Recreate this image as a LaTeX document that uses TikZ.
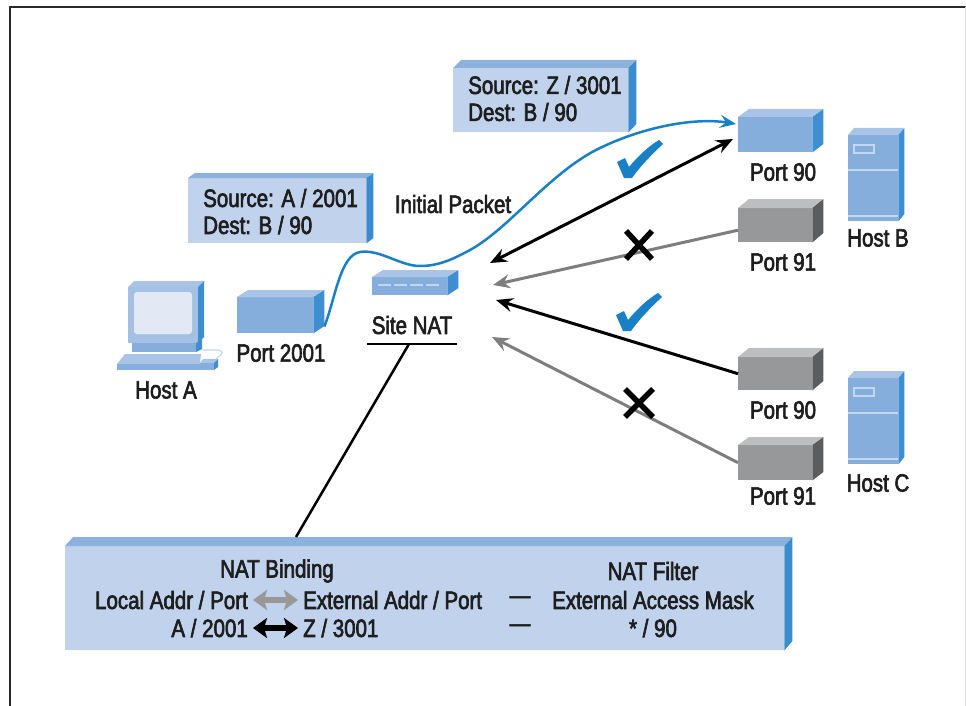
\documentclass[tikz,border=0pt]{standalone}
\usepackage{fontspec}
\setmainfont{Liberation Sans}[FakeStretch=0.82, FakeBold=2.5]
\usetikzlibrary{arrows.meta,calc}

\definecolor{txt}{HTML}{1E1E1E}
\definecolor{framecol}{HTML}{2A2A2A}
\definecolor{bfront}{HTML}{C0D2EC}
\definecolor{btop}{HTML}{8DB1DD}
\definecolor{bside}{HTML}{3A8CCF}
\definecolor{mfront}{HTML}{86AEDC}
\definecolor{mtop}{HTML}{A9C4E7}
\definecolor{mside}{HTML}{3D8FD1}
\definecolor{gfront}{HTML}{97989A}
\definecolor{gtop}{HTML}{BDBEC0}
\definecolor{gside}{HTML}{5B5C5E}
\definecolor{screen}{HTML}{E2E9F5}
\definecolor{srvline}{HTML}{C4D6F0}
\definecolor{pkt}{HTML}{1A80C6}
\definecolor{arrgray}{HTML}{7E7E7E}

% 3D block: name, x, y (front top left), width, height, dx, dy, colour prefix
\newcommand{\drawblock}[8]{%
  \node[fill=#8front, minimum width=#4pt, minimum height=#5pt, inner sep=0pt, anchor=north west] (#1) at (#2,#3) {};
  \fill[#8top] (#1.north west) -- ++(#6,-#7) -- ++(#4,0) -- (#1.north east) -- cycle;
  \fill[#8side] (#1.north east) -- ++(#6,-#7) -- ++(0,#5) -- (#1.south east) -- cycle;
}
% server tower: name, x, y
\newcommand{\drawserver}[3]{%
  \drawblock{#1}{#2}{#3}{50}{86}{6}{7}{m}
  \draw[srvline, line width=1.5pt] ($(#1.north west)+(6,10)$) rectangle ($(#1.north west)+(26,18)$);
  \draw[srvline, line width=1.5pt] ($(#1.north west)+(0,35)$) -- ($(#1.north east)+(0,35)$);
  \draw[srvline, line width=1.5pt] ($(#1.north west)+(0,81)$) -- ($(#1.north east)+(0,81)$);
}
% tick mark, bottom point at x, y
\newcommand{\drawtick}[2]{%
  \fill[pkt, shift={(#1,#2)}] (-10,-15) -- (-2,-19) -- (2,-10) .. controls (12,-22) and (22,-31) .. (32,-37) -- (36,-33) .. controls (24,-22) and (12,-9) .. (5,1) -- (-3,1) -- cycle;
}

\begin{document}
\begin{tikzpicture}[x=1pt, y=-1pt,
    lbl/.style={font=\fontsize{25}{27}\selectfont, text=txt, inner sep=0pt},
    fwd/.style={line width=3pt, -{Stealth[length=17pt,width=14pt,inset=6pt]}},
    both/.style={line width=3pt, {Stealth[length=17pt,width=14pt,inset=6pt]}-{Stealth[length=17pt,width=14pt,inset=6pt]}},
    cross/.style={line width=5.5pt, black},
    bind/.style={line width=6pt, {Stealth[length=14pt,width=20pt,inset=3pt]}-{Stealth[length=14pt,width=20pt,inset=3pt]}, shorten <=5pt, shorten >=5pt}]
    \useasboundingbox (0,0) rectangle (966,706);
    \fill[white] (0,0) rectangle (966,706);
    \draw[framecol, line width=2.5pt] (10,706) -- (10,7) -- (966,7); % frame
    \draw[black!12, line width=1pt] (965,7) -- (965,706);

    % packet boxes
    \drawblock{srcA}{188}{178}{178}{65}{7}{5}{b}
    \node[lbl, align=left, anchor=west] (srcAtxt) at (203,211.5) {Source: A / 2001\\Dest: B / 90};
    \drawblock{srcZ}{453}{68}{175}{64}{8}{8}{b}
    \node[lbl, align=left, anchor=west] (srcZtxt) at (468,98.5) {Source: Z / 3001\\Dest: B / 90};

    % Host A
    \fill[mtop] (128,287) -- (134,281) -- (204,281) -- (198,287) -- cycle;
    \fill[mside] (198,287) -- (204,281) -- (204,337) -- (198,343) -- cycle;
    \fill[mtop!85!mfront] (128,287) rectangle (198,343);
    \fill[screen, rounded corners=3pt] (134,292) rectangle (192,334);
    \fill[mfront] (132,343) rectangle (196,352);
    \fill[mside] (196,343) -- (202,339) -- (202,349) -- (196,352) -- cycle;
    \fill[mtop] (125,354) -- (201,354) -- (200,364) -- (117,364) -- cycle;
    \fill[mfront] (117,364) rectangle (200,370);
    \draw[srvline, line width=1.2pt] (202,350) -- (218,350) .. controls (224,352) .. (216,359);
    \fill[mtop] (203,359) -- (218,359) -- (215,363) -- (200,363) -- cycle;
    \fill[mfront] (200,363) rectangle (214,370);
    \fill[mside] (214,363) -- (218,359) -- (218,367) -- (214,370) -- cycle;
    \node[lbl] (hostA) at (166,390) {Host A};

    \drawblock{p2001}{237}{297}{76}{36}{11}{7}{m}
    \node[lbl] (p2001lbl) at (281,353) {Port 2001};

    % Site NAT
    \drawblock{nat}{372}{277}{75}{18}{11}{7}{m}
    \draw[srvline, line width=2pt, dash pattern=on 13pt off 3pt] (378,285) -- (442,285);
    \node[lbl] (natlbl) at (412,325) {Site NAT};
    \coordinate (barL) at (367,344);
    \coordinate (barR) at (457,344);
    \draw[black, line width=2.5pt] (barL) -- (barR);

    % Host B and Host C
    \drawblock{p90b}{738}{117}{74}{35}{11}{8}{m}
    \node[lbl] (p90blbl) at (783,172) {Port 90};
    \drawblock{p91b}{738}{208}{74}{34}{11}{9}{g}
    \node[lbl] (p91blbl) at (783,262) {Port 91};
    \drawserver{hostB}{848}{135}
    \node[lbl] (hostBlbl) at (878,238) {Host B};

    \drawblock{p90c}{738}{357}{74}{33}{11}{9}{g}
    \node[lbl] (p90clbl) at (783,410) {Port 90};
    \drawblock{p91c}{738}{445}{74}{35}{11}{8}{g}
    \node[lbl] (p91clbl) at (783,496) {Port 91};
    \drawserver{hostC}{848}{378}
    \node[lbl] (hostClbl) at (878,483) {Host C};

    % arrows at the NAT
    \coordinate (natb1) at (490,263);
    \coordinate (natb2) at (493,285);
    \coordinate (natc1) at (496,300);
    \coordinate (natc2) at (492,337);
    \coordinate (p90btip) at (733,139);
    \draw[both, black] (natb1) -- (p90btip); % Port 90 B
    \draw[fwd, arrgray] ($(p91b.west)+(0,5)$) -- (natb2); % Port 91 B
    \draw[fwd, black] (p90c.west) -- (natc1); % Port 90 C
    \draw[fwd, arrgray] (p91c.west) -- (natc2); % Port 91 C

    % initial packet
    \coordinate (pktstart) at ($(p2001.south east)+(11,-7)$);
    \coordinate (pktend) at (736,124);
    \draw[pkt, line width=2.5pt, -{Stealth[length=16pt,width=13pt,inset=6pt]}] (pktstart)
        .. controls (335,300) and (340,255) .. (360,252)
        .. controls (380,249) and (400,266) .. (420,266)
        .. controls (440,266) and (455,258) .. (470,250)
        .. controls (510,228) and (550,172) .. (600,148)
        .. controls (650,124) and (700,118) .. (pktend);
    \node[lbl] (pktlbl) at (453,204) {Initial Packet};

    \drawtick{627}{177}
    \drawtick{626}{330}
    \draw[cross] (626,231) -- (652,259) (626,259) -- (652,231);
    \draw[cross] (625,389) -- (653,417) (625,417) -- (653,389);

    % NAT table
    \drawblock{tbl}{65}{546}{719}{104}{8}{9}{b}
    \coordinate (barleg) at (409,344);
    \coordinate (tbljoin) at (296,537);
    \draw[black, line width=2.5pt] (barleg) -- (tbljoin);
    \node[lbl] (bindhd) at (277,571) {NAT Binding};
    \node[lbl] (filthd) at (653,571) {NAT Filter};
    \node[lbl, anchor=east] (localhd) at (248,600) {Local Addr / Port};
    \node[lbl, anchor=west] (exthd) at (303,600) {External Addr / Port};
    \node[lbl] (dashhd) at (520,600) {—};
    \node[lbl] (maskhd) at (653,600) {External Access Mask};
    \node[lbl, anchor=east] (localval) at (248,628) {A / 2001};
    \node[lbl, anchor=west] (extval) at (303,628) {Z / 3001};
    \node[lbl] (dashval) at (520,628) {—};
    \node[lbl] (maskval) at (653,628) {* / 90};
    \draw[bind, arrgray!80] (localhd.east) -- (exthd.west);
    \draw[bind, black] (localval.east) -- (extval.west);
\end{tikzpicture}
\end{document}
